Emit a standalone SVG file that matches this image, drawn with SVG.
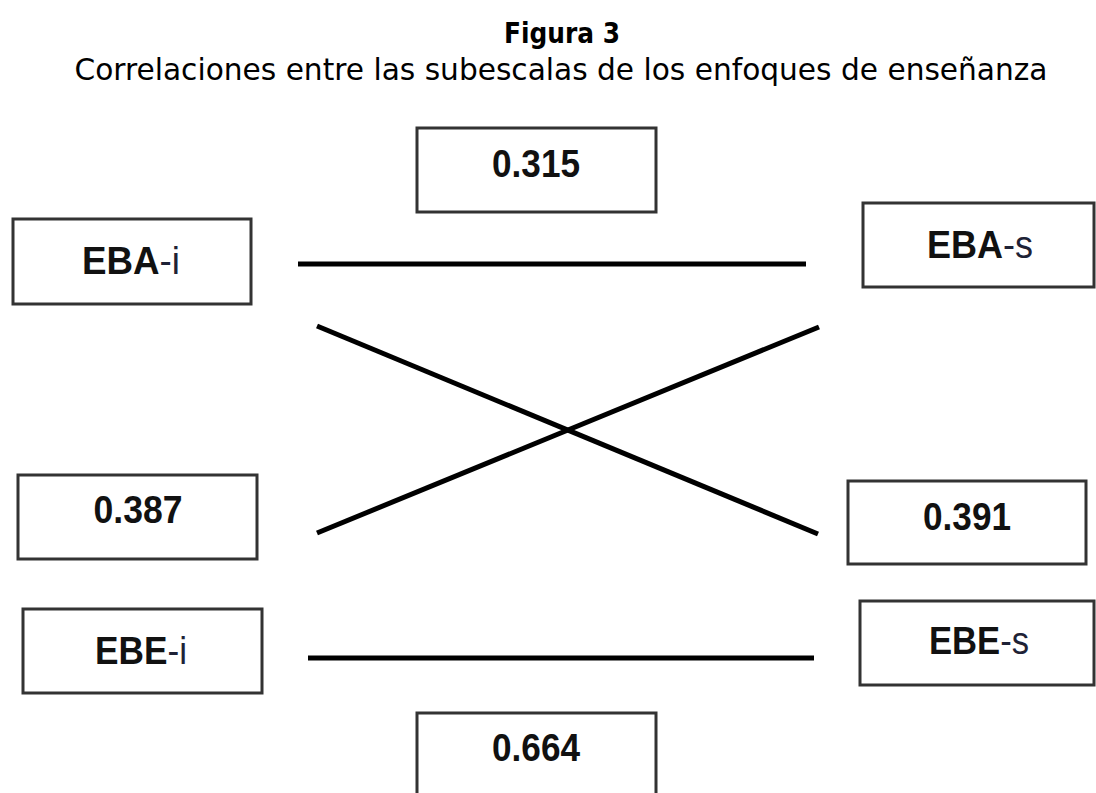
<svg xmlns="http://www.w3.org/2000/svg" width="1096" height="793" viewBox="0 0 1096 793">
<style>
.box{fill:#fff;stroke:#333;stroke-width:3}
.lbl{font-family:"Liberation Sans",Arial,sans-serif;font-size:39px;font-weight:bold;fill:#111;text-anchor:middle}
.sub{font-weight:normal;fill:#1e2236}
.conn{stroke:#000;stroke-width:5;stroke-linecap:butt;fill:none}
.title{font-family:"DejaVu Sans",Verdana,sans-serif;fill:#000;text-anchor:middle}
</style>
<rect x="0" y="0" width="1096" height="793" fill="#fff"/>
<text class="title" x="562" y="43" font-size="28" font-weight="bold" textLength="116" lengthAdjust="spacingAndGlyphs">Figura 3</text>
<text class="title" x="561" y="80" font-size="31" textLength="973" lengthAdjust="spacingAndGlyphs">Correlaciones entre las subescalas de los enfoques de enseñanza</text>
<g id="connectors">
<line class="conn" x1="298" y1="264" x2="806" y2="264"/>
<line class="conn" x1="317" y1="326" x2="818" y2="534"/>
<line class="conn" x1="317" y1="533" x2="819" y2="327"/>
<line class="conn" x1="308" y1="658" x2="814" y2="658"/>
</g>
<g id="n-0315"><rect class="box" x="417" y="128" width="239" height="84"/><text class="lbl" x="536" y="177" textLength="88" lengthAdjust="spacingAndGlyphs">0.315</text></g>
<g id="n-EBA-i"><rect class="box" x="13" y="219" width="238" height="85"/><text class="lbl" x="131" y="274" textLength="98" lengthAdjust="spacingAndGlyphs">EBA<tspan class="sub">-i</tspan></text></g>
<g id="n-EBA-s"><rect class="box" x="863" y="203" width="231" height="84"/><text class="lbl" x="980" y="258" textLength="106" lengthAdjust="spacingAndGlyphs">EBA<tspan class="sub">-s</tspan></text></g>
<g id="n-0387"><rect class="box" x="18" y="475" width="239" height="84"/><text class="lbl" x="138" y="523" textLength="89" lengthAdjust="spacingAndGlyphs">0.387</text></g>
<g id="n-0391"><rect class="box" x="848" y="481" width="238" height="83"/><text class="lbl" x="967" y="530" textLength="88" lengthAdjust="spacingAndGlyphs">0.391</text></g>
<g id="n-EBE-i"><rect class="box" x="23" y="609" width="239" height="84"/><text class="lbl" x="141" y="664" textLength="92" lengthAdjust="spacingAndGlyphs">EBE<tspan class="sub">-i</tspan></text></g>
<g id="n-EBE-s"><rect class="box" x="860" y="601" width="234" height="84"/><text class="lbl" x="979" y="654" textLength="100" lengthAdjust="spacingAndGlyphs">EBE<tspan class="sub">-s</tspan></text></g>
<g id="n-0664"><rect class="box" x="417" y="713" width="239" height="100"/><text class="lbl" x="536" y="761" textLength="88" lengthAdjust="spacingAndGlyphs">0.664</text></g>
</svg>
